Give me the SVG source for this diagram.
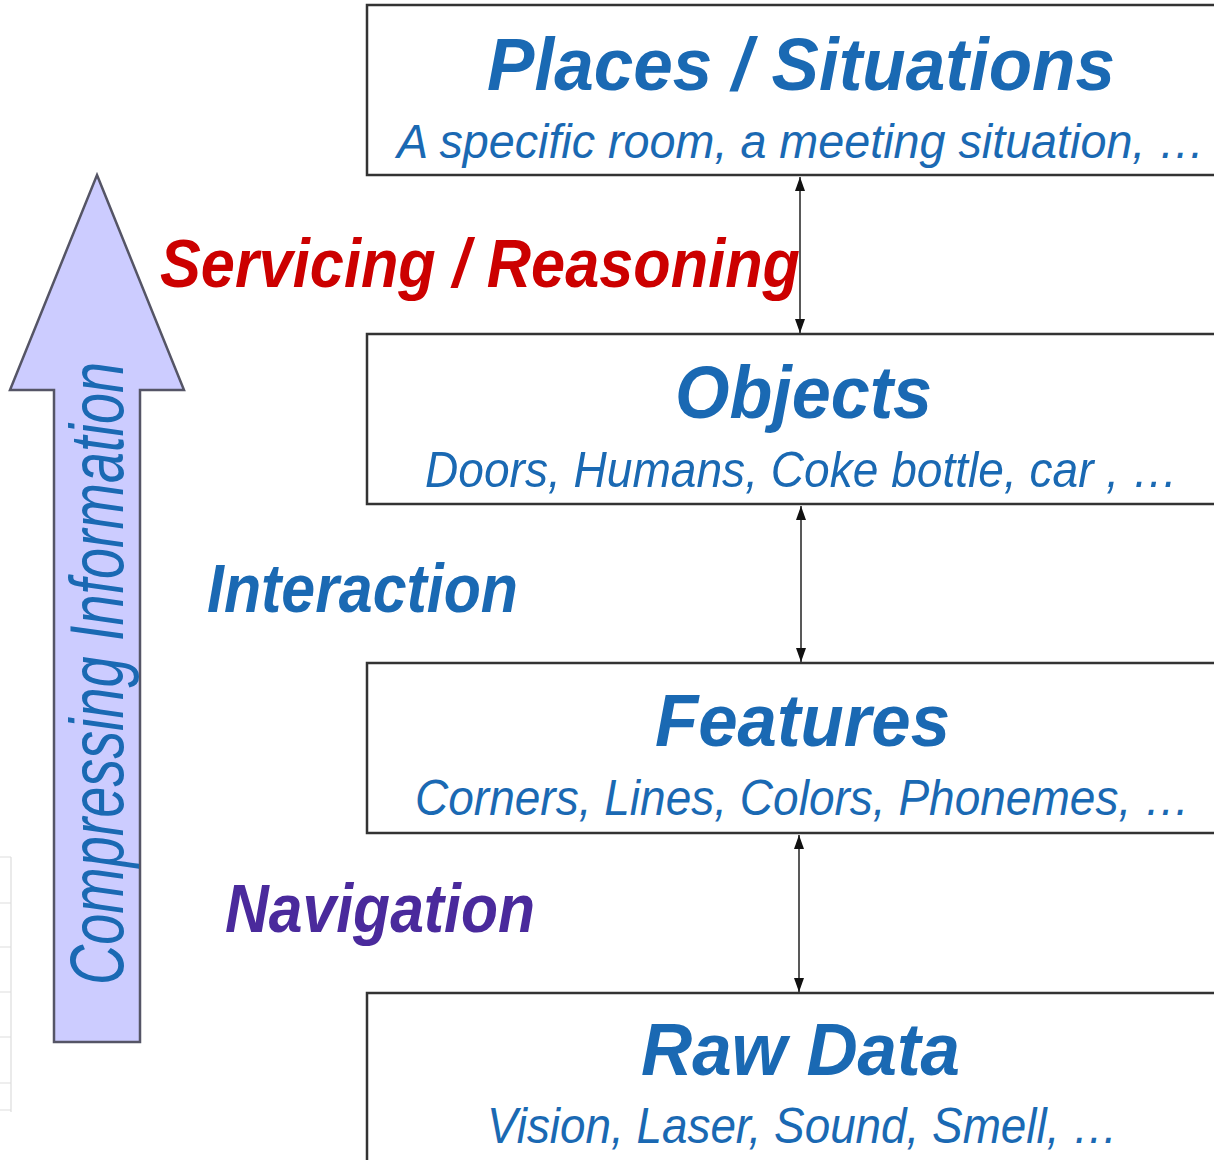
<svg xmlns="http://www.w3.org/2000/svg" width="1214" height="1160" viewBox="0 0 1214 1160">
<defs>
<style>
.box{fill:#ffffff;stroke:#333333;stroke-width:2.5}
.title{font-family:"Liberation Sans",Arial,sans-serif;font-weight:bold;font-style:italic;fill:#1a69b3}
.sub{font-family:"Liberation Sans",Arial,sans-serif;font-style:italic;fill:#1a69b3}
.lbl{font-family:"Liberation Sans",Arial,sans-serif;font-weight:bold;font-style:italic}
.conn{stroke:#222222;stroke-width:1.5;fill:none}
</style>
<marker id="ah" viewBox="0 0 14 10" refX="14" refY="5" markerWidth="14" markerHeight="10" markerUnits="userSpaceOnUse" orient="auto-start-reverse">
<path d="M0,0 L14,5 L0,10 z" fill="#111111"/>
</marker>
</defs>
<rect width="1214" height="1160" fill="#ffffff"/>
<g id="edge-artifact" stroke="#dddddd" stroke-width="1.2" fill="none">
<path d="M11,857 V1112 M0,857 H11 M0,903 H11 M0,947 H11 M0,992 H11 M0,1037 H11 M0,1083 H11 M0,1110 H11"/>
</g>
<g id="compress-arrow">
<polygon points="97,175 184,390 140,390 140,1042 54,1042 54,390 10,390" fill="#ccccff" stroke="#555566" stroke-width="2.5" stroke-linejoin="miter"/>
<text class="sub" transform="translate(123,985) rotate(-90)" font-size="76" textLength="623" lengthAdjust="spacingAndGlyphs">Compressing Information</text>
</g>
<g id="places">
<rect class="box" x="367" y="5" width="860" height="170"/>
<text class="title" x="487" y="90" font-size="75" textLength="628" lengthAdjust="spacingAndGlyphs">Places / Situations</text>
<text class="sub" x="397" y="158" font-size="49" textLength="808" lengthAdjust="spacingAndGlyphs">A specific room, a meeting situation,  …</text>
</g>
<g id="objects">
<rect class="box" x="367" y="334" width="860" height="170"/>
<text class="title" x="675" y="418" font-size="74" textLength="257" lengthAdjust="spacingAndGlyphs">Objects</text>
<text class="sub" x="425" y="487" font-size="50" textLength="753" lengthAdjust="spacingAndGlyphs">Doors, Humans, Coke bottle, car , …</text>
</g>
<g id="features">
<rect class="box" x="367" y="663" width="860" height="170"/>
<text class="title" x="655" y="746" font-size="75" textLength="295" lengthAdjust="spacingAndGlyphs">Features</text>
<text class="sub" x="415" y="815" font-size="50" textLength="775" lengthAdjust="spacingAndGlyphs">Corners, Lines, Colors, Phonemes, …</text>
</g>
<g id="rawdata">
<rect class="box" x="367" y="993" width="860" height="190"/>
<text class="title" x="641" y="1075" font-size="75" textLength="319" lengthAdjust="spacingAndGlyphs">Raw Data</text>
<text class="sub" x="487" y="1143" font-size="50" textLength="631" lengthAdjust="spacingAndGlyphs">Vision, Laser, Sound, Smell, …</text>
</g>
<g id="labels">
<text class="lbl" x="160" y="287" font-size="68" fill="#cc0000" textLength="640" lengthAdjust="spacingAndGlyphs">Servicing / Reasoning</text>
<text class="lbl" x="207" y="612" font-size="69" fill="#1a69b3" textLength="311" lengthAdjust="spacingAndGlyphs">Interaction</text>
<text class="lbl" x="225" y="932" font-size="68" fill="#4a2a9c" textLength="310" lengthAdjust="spacingAndGlyphs">Navigation</text>
</g>
<g id="connectors">
<line class="conn" x1="800" y1="177" x2="800" y2="333" marker-start="url(#ah)" marker-end="url(#ah)"/>
<line class="conn" x1="801" y1="506" x2="801" y2="662" marker-start="url(#ah)" marker-end="url(#ah)"/>
<line class="conn" x1="799" y1="835" x2="799" y2="992" marker-start="url(#ah)" marker-end="url(#ah)"/>
</g>
</svg>
